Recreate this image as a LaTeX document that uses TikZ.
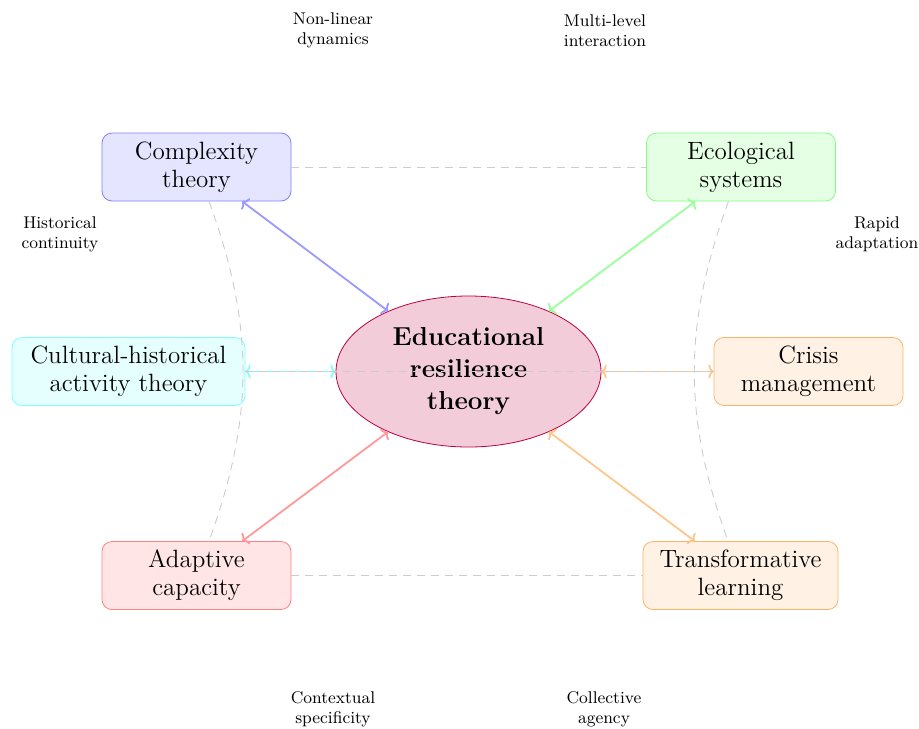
\documentclass[tikz,border=0pt]{standalone}
\usetikzlibrary{shapes.geometric,arrows.meta}
\definecolor{mycyan}{rgb}{0,1,1}
\definecolor{myorange}{rgb}{1,0.5,0}
\definecolor{mypurple}{rgb}{0.75,0,0.25}
\begin{document}
\begin{tikzpicture}[x=0.5pt,y=-0.5pt,
  theory/.style={draw, rounded corners=5pt, align=center, minimum width=94.5pt,
    minimum height=34pt, inner xsep=4pt, font=\fontsize{12.5}{14}\selectfont},
  link/.style={{To[length=2.6pt,width=7pt]}-{To[length=2.6pt,width=7pt]}, line width=0.9pt},
  note/.style={align=center, font=\fontsize{8.5}{10}\selectfont},
  relation/.style={gray!40, line width=0.45pt, dash pattern=on 4pt off 3pt}
]
\useasboundingbox (0,0) rectangle (919,728);
% central node
\node[ellipse, draw=mypurple, fill=mypurple!20, minimum width=132.5pt, minimum height=75.5pt,
  inner sep=0pt, align=center, font=\fontsize{13}{16}\selectfont\bfseries]
  (core) at (468.5,371.5) {Educational\\resilience\\theory};
% theory nodes
\node[theory, draw=blue!50, fill=blue!10] (comp) at (196.5,167) {Complexity\\theory};
\node[theory, draw=green!50, fill=green!10] (eco) at (741,167) {Ecological\\systems};
\node[theory, draw=mycyan!50, fill=mycyan!10, minimum width=116.5pt] (chat) at (128.5,371.5) {Cultural-historical\\activity theory};
\node[theory, draw=myorange!60, fill=myorange!10] (crisis) at (808.5,371.5) {Crisis\\management};
\node[theory, draw=red!50, fill=red!10] (adapt) at (196.5,575.5) {Adaptive\\capacity};
\node[theory, draw=myorange!60, fill=myorange!10, minimum width=97.5pt] (trans) at (740.5,575.5) {Transformative\\learning};
% links
\draw[link, blue!40] (core) -- (comp);
\draw[link, green!40] (core) -- (eco);
\draw[link, mycyan!50] (core) -- (chat);
\draw[link, myorange!45] (core) -- (crisis);
\draw[link, red!40] (core) -- (adapt);
\draw[link, myorange!45] (core) -- (trans);
% relations
\draw[relation] (comp) -- (eco);
\draw[relation] (adapt) -- (trans);
\draw[relation] (chat) -- (crisis);
\draw[relation] (comp) to[bend left=20] (adapt);
\draw[relation] (eco) to[bend right=20] (trans);
% notes
\node[note] (n1) at (333,30) {Non-linear\\dynamics};
\node[note] (n2) at (605,31) {Multi-level\\interaction};
\node[note] (n3) at (60,234) {Historical\\continuity};
\node[note] (n4) at (877,234) {Rapid\\adaptation};
\node[note] (n5) at (333,709) {Contextual\\specificity};
\node[note] (n6) at (604,709) {Collective\\agency};
\end{tikzpicture}
\end{document}
